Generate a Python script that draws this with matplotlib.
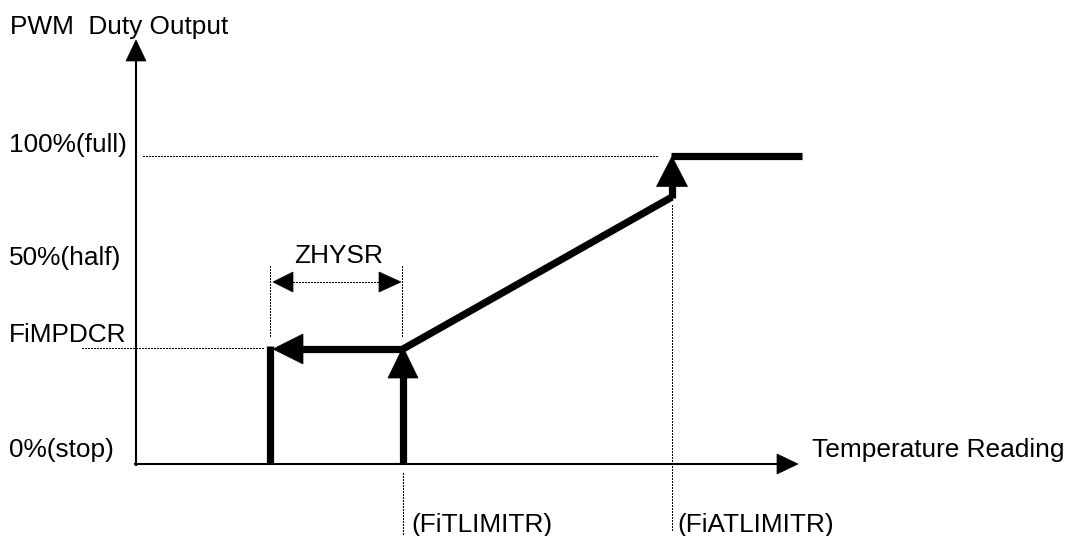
import matplotlib
matplotlib.use("Agg")
import matplotlib.pyplot as plt
from matplotlib.patches import Polygon

plt.rcParams['font.family'] = ['Liberation Sans', 'DejaVu Sans']

# ---- schematic values (pixel-based diagram coordinates, y downward) ----
# temperature positions
x_axis0, x_off, x_limit, x_atlimit, x_end, x_axis_tip = 136, 270, 403, 672, 802, 798
# duty levels
y_zero, y_mpdcr, y_full, y_slope_top, y_axis_tip = 464, 349, 155.5, 197, 40

axis_labels = ["PWM  Duty Output", "Temperature Reading"]
level_labels = ["100%(full)", "50%(half)", "FiMPDCR", "0%(stop)"]
level_label_baselines = [152, 265, 342, 457]
temp_labels = ["(FiTLIMITR)", "(FiATLIMITR)"]
hyst_label = "ZHYSR"

W, H = 1073, 536
fig = plt.figure(figsize=(W / 100, H / 100), dpi=100)
ax = fig.add_axes([0, 0, 1, 1])
ax.set_xlim(0, W)
ax.set_ylim(H, 0)
ax.axis('off')

FS = 18.9
K = 'black'


def head(tip, direction, length, width):
    tx, ty = tip
    dx, dy = direction
    bx, by = tx - dx * length, ty - dy * length
    px, py = -dy * width / 2, dx * width / 2
    ax.add_patch(Polygon([(tx, ty), (bx + px, by + py), (bx - px, by - py)],
                         closed=True, facecolor=K, edgecolor=K, lw=0.5, zorder=5))


dot = dict(color=K, lw=0.75, linestyle=(0, (1.4, 1.4)), antialiased=False)
thick = dict(color=K, lw=5.2, solid_capstyle='butt', solid_joinstyle='miter')

# axes
ax.plot([x_axis0, x_axis0], [y_zero + 1, y_axis_tip + 18], color=K, lw=1.5)
head((x_axis0, y_axis_tip), (0, -1), 21, 20)
ax.plot([x_axis0 - 1, x_axis_tip - 18], [y_zero, y_zero], color=K, lw=1.5)
head((x_axis_tip, y_zero), (1, 0), 21, 20)

# dotted guide lines
ax.plot([143, 658], [y_full, y_full], **dot)
ax.plot([82, 263], [y_mpdcr - 1, y_mpdcr - 1], **dot)
ax.plot([x_off, x_off], [266, 337], **dot)
ax.plot([x_limit - 1, x_limit - 1], [266, 337], **dot)
ax.plot([x_limit, x_limit], [473, 534], **dot)
ax.plot([x_atlimit, x_atlimit], [205, 530], **dot)

# hysteresis double arrow
y_h = 282
ax.plot([293, 379], [y_h, y_h], **dot)
head((273, y_h), (-1, 0), 20, 20)
head((401, y_h), (1, 0), 22, 20)

# thick curve
ax.plot([x_off, x_off], [y_zero, y_mpdcr - 3], **thick)
ax.plot([x_off + 20, x_limit], [y_mpdcr, y_mpdcr], **thick)
head((x_off + 3, y_mpdcr), (-1, 0), 30, 30)
ax.plot([x_limit, x_limit], [y_zero, y_mpdcr + 25], **thick)
head((x_limit, y_mpdcr - 2), (0, -1), 31, 30)
ax.plot([x_limit, x_atlimit], [y_mpdcr, y_slope_top], **thick)
ax.plot([x_atlimit, x_atlimit], [y_slope_top + 1, y_full + 25], **thick)
head((x_atlimit, y_full + 1), (0, -1), 30, 31)
ax.plot([x_atlimit - 1, x_end], [y_full, y_full], **thick)

# texts
ax.text(10, 34, axis_labels[0], fontsize=FS, va='baseline', ha='left')
ax.text(812, 457, axis_labels[1], fontsize=FS, va='baseline', ha='left')
for lab, yb in zip(level_labels, level_label_baselines):
    ax.text(9, yb, lab, fontsize=FS, va='baseline', ha='left')
ax.text(339, 263, hyst_label, fontsize=FS, va='baseline', ha='center')
ax.text(411, 532, temp_labels[0], fontsize=FS, va='baseline', ha='left')
ax.text(677, 532, temp_labels[1], fontsize=FS, va='baseline', ha='left')

fig.savefig('out.png', dpi=100)
